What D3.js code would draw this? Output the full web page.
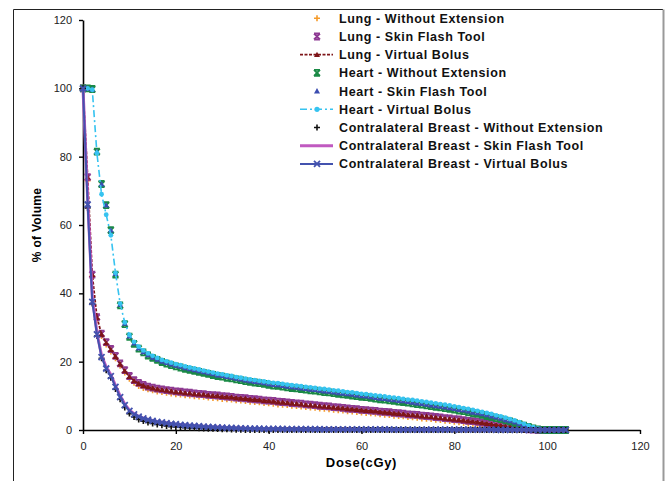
<!DOCTYPE html>
<html><head><meta charset="utf-8">
<script src="https://cdn.jsdelivr.net/npm/d3@7/dist/d3.min.js"></script>
<style>
body{margin:0;background:#fff}
svg{display:block}
text{font-family:"Liberation Sans",Arial,Helvetica,sans-serif}
</style>
</head><body>
<svg id="chart" width="665" height="481"></svg>
<script>
// ---------- DATA ----------
const dose = [0,1,2,3,4,5,6,7,8,9,10,11,12,13,14,15,16,17,18,19,20,21,22,23,24,25,26,27,28,29,30,31,32,33,34,35,36,37,38,39,40,41,42,43,44,45,46,47,48,49,50,51,52,53,54,55,56,57,58,59,60,61,62,63,64,65,66,67,68,69,70,71,72,73,74,75,76,77,78,79,80,81,82,83,84,85,86,87,88,89,90,91,92,93,94,95,96,97,98,99,100,101,102,103,104];

const lungWithoutExtension = [
100,73,45,32.5,27.5,25,23,21,18.8,16.8,
15.0,13.8,12.9,12.3,11.9,11.6,11.3,11.1,10.9,10.7,
10.5,10.4,10.2,10.1,9.9,9.8,9.7,9.5,9.4,9.3,
9.1,9.0,8.9,8.7,8.6,8.5,8.3,8.2,8.1,7.9,
7.8,7.7,7.5,7.4,7.3,7.1,7.0,6.9,6.7,6.6,
6.5,6.3,6.2,6.1,5.9,5.8,5.7,5.5,5.4,5.3,
5.1,5.0,4.9,4.8,4.6,4.5,4.4,4.2,4.1,4.0,
3.8,3.7,3.6,3.4,3.3,3.2,3.0,2.9,2.7,2.6,
2.4,2.3,2.1,1.9,1.8,1.6,1.4,1.2,1.0,0.8,
0.6,0.4,0.25,0.1,0.05,0,0,0,0,0,
0,0,0,0,0];

const lungSkinFlash = [
100,74,45.5,33,28.2,25.7,23.7,21.7,19.5,17.5,
15.8,14.6,13.8,13.2,12.7,12.4,12.1,11.9,11.7,11.5,
11.3,11.2,11.0,10.9,10.7,10.6,10.5,10.3,10.2,10.1,
9.9,9.8,9.7,9.5,9.4,9.3,9.1,9.0,8.9,8.7,
8.6,8.5,8.3,8.2,8.1,7.9,7.8,7.7,7.5,7.4,
7.3,7.1,7.0,6.9,6.7,6.6,6.5,6.3,6.2,6.1,
5.9,5.8,5.7,5.6,5.4,5.3,5.2,5.0,4.9,4.8,
4.6,4.5,4.4,4.2,4.1,4.0,3.8,3.7,3.5,3.4,
3.2,3.1,2.9,2.7,2.6,2.4,2.2,2.0,1.8,1.6,
1.4,1.2,1.0,0.8,0.6,0.4,0.2,0.1,0,0,
0,0,0,0,0];

const lungVirtualBolus = [
100,74,45.5,33,28,25.5,23.5,21.5,19.3,17.3,
15.6,14.4,13.6,13.0,12.6,12.3,12.0,11.8,11.6,11.4,
11.2,11.1,10.9,10.8,10.6,10.5,10.4,10.2,10.1,10.0,
9.8,9.7,9.6,9.4,9.3,9.2,9.0,8.9,8.8,8.6,
8.5,8.4,8.2,8.1,8.0,7.8,7.7,7.6,7.4,7.3,
7.2,7.0,6.9,6.8,6.6,6.5,6.4,6.2,6.1,6.0,
5.8,5.7,5.6,5.5,5.3,5.2,5.1,4.9,4.8,4.7,
4.5,4.4,4.3,4.1,4.0,3.9,3.7,3.6,3.4,3.3,
3.1,3.0,2.8,2.6,2.5,2.3,2.1,1.9,1.7,1.5,
1.3,1.1,0.9,0.7,0.5,0.3,0.15,0.05,0,0,
0,0,0,0,0];

const heartWithoutExtension = [
100,100,99.8,81.5,72,65.8,58.5,45.5,36.5,31,
27.3,25.2,23.8,22.7,21.8,21.1,20.5,19.9,19.4,19.0,
18.6,18.3,17.9,17.6,17.3,17.0,16.7,16.4,16.1,15.8,
15.6,15.3,15.1,14.8,14.6,14.3,14.1,13.9,13.7,13.5,
13.2,13.0,12.9,12.7,12.5,12.3,12.2,12.0,11.8,11.6,
11.5,11.3,11.1,11.0,10.8,10.6,10.4,10.3,10.1,9.9,
9.7,9.6,9.4,9.2,9.0,8.9,8.7,8.5,8.3,8.2,
8.0,7.8,7.6,7.4,7.2,7.0,6.8,6.6,6.4,6.2,
6.0,5.7,5.5,5.2,4.9,4.7,4.4,4.1,3.8,3.5,
3.2,2.8,2.5,2.1,1.7,1.3,0.9,0.5,0.2,0.05,
0,0,0,0,0];

const heartSkinFlash = [
100,100,99.7,81.5,72,65.8,58.5,45.8,36.8,31.2,
27.5,25.4,24.0,22.9,22.0,21.3,20.7,20.1,19.7,19.3,
18.9,18.6,18.2,17.9,17.6,17.3,17.0,16.7,16.4,16.1,
15.9,15.6,15.4,15.1,14.9,14.6,14.4,14.2,14.0,13.8,
13.5,13.3,13.2,13.0,12.8,12.6,12.5,12.3,12.1,11.9,
11.8,11.6,11.4,11.3,11.1,10.9,10.7,10.6,10.4,10.2,
10.0,9.9,9.7,9.5,9.3,9.2,9.0,8.8,8.6,8.5,
8.3,8.1,7.9,7.7,7.5,7.3,7.1,6.9,6.7,6.5,
6.3,6.0,5.8,5.5,5.2,5.0,4.7,4.4,4.1,3.8,
3.4,3.0,2.7,2.3,1.9,1.5,1.0,0.6,0.3,0.05,
0,0,0,0,0];

const heartVirtualBolus = [
100,100,99.6,81,69,63,57,46,37,31.5,
27.8,25.8,24.4,23.3,22.4,21.7,21.1,20.5,20.1,19.7,
19.3,19.0,18.6,18.3,18.0,17.7,17.4,17.1,16.8,16.5,
16.3,16.0,15.8,15.5,15.3,15.0,14.8,14.6,14.4,14.2,
14.0,13.8,13.7,13.5,13.3,13.1,13.0,12.8,12.6,12.5,
12.3,12.1,12.0,11.8,11.6,11.5,11.3,11.1,11.0,10.8,
10.6,10.5,10.3,10.1,10.0,9.8,9.6,9.5,9.3,9.1,
8.9,8.8,8.6,8.4,8.2,8.0,7.8,7.6,7.4,7.2,
6.9,6.7,6.4,6.2,5.9,5.6,5.3,5.0,4.7,4.3,
4.0,3.6,3.2,2.8,2.3,1.8,1.3,0.8,0.4,0.1,
0,0,0,0,0];

const breastWithoutExtension = [
100,65,37,27.5,21,17.5,15.3,12,9,6.6,
4.8,3.8,3.1,2.6,2.2,1.9,1.6,1.4,1.2,1.0,
0.9,0.8,0.7,0.6,0.55,0.5,0.45,0.4,0.35,0.3,
0.25,0.2,0.15,0.1,0.05,0,0,0,0,0,
0,0,0,0,0,0,0,0,0,0,
0,0,0,0,0,0,0,0,0,0,
0,0,0,0,0,0,0,0,0,0,
0,0,0,0,0,0,0,0,0,0,
0,0,0,0,0,0,0,0,0,0,
0,0,0,0,0,0,0,0,0,0,
0,0,0,0,0];

const breastSkinFlash = [
100,68,39,28.5,21.8,18.4,16.2,13,10,7.6,
5.8,4.8,4.0,3.5,3.1,2.8,2.5,2.3,2.1,1.9,
1.7,1.6,1.5,1.4,1.3,1.2,1.1,1.0,0.9,0.85,
0.8,0.7,0.65,0.6,0.55,0.5,0.46,0.43,0.4,0.38,
0.36,0.34,0.32,0.3,0.29,0.28,0.27,0.26,0.25,0.24,
0.23,0.22,0.22,0.21,0.21,0.2,0.2,0.19,0.19,0.18,
0.18,0.17,0.17,0.16,0.16,0.15,0.15,0.15,0.14,0.14,
0.14,0.13,0.13,0.13,0.12,0.12,0.12,0.11,0.11,0.11,
0.1,0.1,0.1,0.1,0.09,0.09,0.09,0.08,0.08,0.08,
0.07,0.07,0.07,0.06,0.06,0.06,0.05,0.05,0.05,0.04,
0.04,0.03,0.03,0.02,0.02];

const breastVirtualBolus = [
100,66,37.5,28,21.3,18,15.8,12.6,9.6,7.3,
5.6,4.6,3.9,3.4,3.0,2.7,2.4,2.2,2.0,1.8,
1.7,1.5,1.4,1.3,1.2,1.1,1.0,0.9,0.85,0.8,
0.7,0.65,0.6,0.55,0.5,0.45,0.42,0.4,0.37,0.35,
0.33,0.31,0.3,0.29,0.28,0.27,0.26,0.25,0.24,0.23,
0.22,0.22,0.21,0.21,0.2,0.2,0.19,0.19,0.18,0.18,
0.17,0.17,0.16,0.16,0.15,0.15,0.15,0.14,0.14,0.14,
0.13,0.13,0.13,0.12,0.12,0.12,0.11,0.11,0.11,0.1,
0.1,0.1,0.1,0.09,0.09,0.09,0.08,0.08,0.08,0.07,
0.07,0.07,0.06,0.06,0.06,0.05,0.05,0.05,0.04,0.04,
0.03,0.03,0.02,0.02,0.01];

const seriesNames = [
  "Lung - Without Extension",
  "Lung - Skin Flash Tool",
  "Lung - Virtual Bolus",
  "Heart - Without Extension",
  "Heart - Skin Flash Tool",
  "Heart - Virtual Bolus",
  "Contralateral Breast - Without Extension",
  "Contralateral Breast - Skin Flash Tool",
  "Contralateral Breast - Virtual Bolus"
];
const seriesValues = [lungWithoutExtension, lungSkinFlash, lungVirtualBolus,
  heartWithoutExtension, heartSkinFlash, heartVirtualBolus,
  breastWithoutExtension, breastSkinFlash, breastVirtualBolus];

const xTicks = [0,20,40,60,80,100,120];
const yTicks = [0,20,40,60,80,100,120];
const xTitle = "Dose(cGy)";
const yTitle = "% of Volume";

// ---------- STYLES ----------
const styles = [
  {color:"#F59B2B", marker:"plus",  line:null},
  {color:"#8E3A93", marker:"xbar",  line:null},
  {color:"#7E1518", marker:"tri",   line:{w:1.8, dash:"3,1.5"}},
  {color:"#1A8A45", marker:"xbar",  line:null},
  {color:"#3B4DB0", marker:"tri",   line:null},
  {color:"#36C3F0", marker:"circle",line:{w:1.6, dash:"7,3,2,3"}},
  {color:"#111111", marker:"plus",  line:null},
  {color:"#C05AC0", marker:null,    line:{w:3, dash:null}},
  {color:"#4352AE", marker:"x",     line:{w:2, dash:null}}
];

// ---------- CHART ----------
const svg = d3.select("#chart");
const W = 665, H = 481;
const plot = {left:83, right:640, top:20, bottom:430};

// outer frame
svg.append("line").attr("x1",13.5).attr("x2",663).attr("y1",9.5).attr("y2",9.5).attr("stroke","#222").attr("stroke-width",1);
svg.append("line").attr("x1",13.5).attr("x2",13.5).attr("y1",9.5).attr("y2",H).attr("stroke","#222").attr("stroke-width",1);
svg.append("line").attr("x1",663.5).attr("x2",663.5).attr("y1",9.5).attr("y2",H).attr("stroke","#999").attr("stroke-width",2);

const x = d3.scaleLinear().domain([0,120]).range([plot.left, plot.right]);
const y = d3.scaleLinear().domain([0,120]).range([plot.bottom, plot.top]);

const gx = svg.append("g").attr("transform",`translate(0,${plot.bottom})`)
  .call(d3.axisBottom(x).tickValues(xTicks).tickSize(4).tickPadding(8).tickSizeOuter(0));
const gy = svg.append("g").attr("transform",`translate(${plot.left},0)`)
  .call(d3.axisLeft(y).tickValues(yTicks).tickSize(4).tickPadding(7).tickSizeOuter(0));
[gx,gy].forEach(g=>{
  g.select(".domain").attr("stroke","#000").attr("stroke-width",1.6);
  g.selectAll(".tick line").attr("stroke","#000").attr("stroke-width",1.4);
  g.selectAll(".tick text").attr("fill","#222").style("font-size","11px").style("font-family","'Liberation Sans',Arial,sans-serif");
});

svg.append("text").attr("x",(plot.left+plot.right)/2).attr("y",467)
  .attr("text-anchor","middle").style("font-weight","bold").style("font-size","13px")
  .style("letter-spacing","0.7px").text(xTitle);
svg.append("text").attr("transform",`translate(41,${(plot.top+plot.bottom)/2}) rotate(-90)`)
  .attr("text-anchor","middle").style("font-weight","bold").style("font-size","12px")
  .style("letter-spacing","0.3px").text(yTitle);

function markerPath(type, s){
  const h = s/2;
  switch(type){
    case "plus": return `M${-h},0H${h}M0,${-h}V${h}`;
    case "x": return `M${-h},${-h}L${h},${h}M${-h},${h}L${h},${-h}`;
    case "xbar": return `M${-h},${-h}L${h},${h}M${-h},${h}L${h},${-h}M${-h},${-h}H${h}M${-h},${h}H${h}`;
    case "tri": return `M0,${-h}L${h},${h*0.8}L${-h},${h*0.8}Z`;
    case "circle": return d3.symbol(d3.symbolCircle, s*s*0.6)();
  }
  return "";
}
function drawMarker(g, type, color, s){
  const p = g.append("path").attr("d", markerPath(type, s));
  if(type==="tri" || type==="circle") p.attr("fill", color).attr("stroke","none");
  else p.attr("fill","none").attr("stroke", color).attr("stroke-width", type==="plus"?1.6:1.8);
}

const lineGen = d3.line().x(d=>x(d[0])).y(d=>y(d[1]));
const layer = svg.append("g");
seriesValues.forEach((vals,i)=>{
  const st = styles[i];
  const pts = dose.map((d,k)=>[d, vals[k]]);
  const g = layer.append("g");
  if(st.line){
    g.append("path").datum(pts).attr("d", lineGen).attr("fill","none")
      .attr("stroke", st.color).attr("stroke-width", st.line.w)
      .attr("stroke-dasharray", st.line.dash);
  }
  if(st.marker){
    pts.forEach(p=>{
      const m = g.append("g").attr("transform",`translate(${x(p[0])},${y(p[1])})`);
      drawMarker(m, st.marker, st.color, st.marker==="circle"?5.5:6);
    });
  }
});

// legend
const leg = svg.append("g");
seriesNames.forEach((name,i)=>{
  const st = styles[i];
  const cy = 18.3 + i*18.2;
  const g = leg.append("g");
  if(st.line){
    g.append("line").attr("x1",300).attr("x2",333).attr("y1",cy).attr("y2",cy)
      .attr("stroke",st.color).attr("stroke-width",st.line.w)
      .attr("stroke-dasharray", st.line.dash);
  }
  if(st.marker){
    const m = g.append("g").attr("transform",`translate(317,${cy})`);
    drawMarker(m, st.marker, st.color, 6);
  }
  g.append("text").attr("x",339).attr("y",cy+4.5)
    .style("font-weight","bold").style("font-size","12.5px").style("letter-spacing","0.6px")
    .attr("fill","#111").text(name);
});
</script>
</body></html>
